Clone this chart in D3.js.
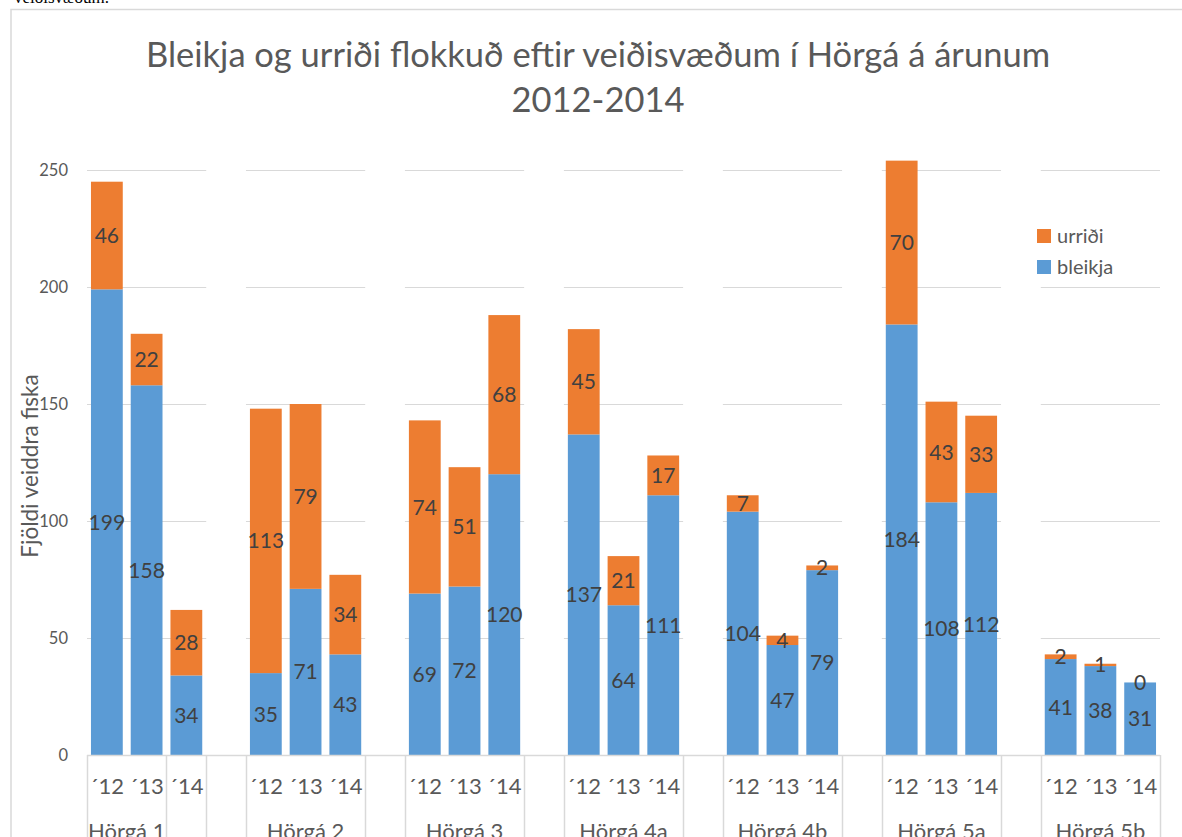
<!DOCTYPE html>
<html>
<head>
<meta charset="utf-8">
<script src="https://cdn.jsdelivr.net/npm/d3@7"></script>
<style>
  body { margin: 0; background: #fff; }
  svg { display: block; }
</style>
</head>
<body>
<div id="chart"></div>
<script>
// values
var groups = ['Hörgá 1', 'Hörgá 2', 'Hörgá 3', 'Hörgá 4a', 'Hörgá 4b', 'Hörgá 5a', 'Hörgá 5b']
var years = ['´12', '´13', '´14']
var labelSpan = [2, 3, 3, 3, 3, 3, 3]  // Hörgá 1 label only covers two year cells
var bleikja = [
  [199, 158, 34],
  [35, 71, 43],
  [69, 72, 120],
  [137, 64, 111],
  [104, 47, 79],
  [184, 108, 112],
  [41, 38, 31]
]
var urridi = [
  [46, 22, 28],
  [113, 79, 34],
  [74, 51, 68],
  [45, 21, 17],
  [7, 4, 2],
  [70, 43, 33],
  [2, 1, 0]
]
var yTicks = [0, 50, 100, 150, 200, 250]
var seriesNames = ['urriði', 'bleikja']
var colors = { bleikja: '#5B9BD5', urridi: '#ED7D31' }

var W = 1182, H = 837
var font = 'Lato, "Open Sans", sans-serif'
var svg = d3.select('#chart').append('svg').attr('width', W).attr('height', H)

// bit of the document text above the chart, cut off
svg.append('text').attr('x', 14).attr('y', 3)
  .attr('font-family', '"Liberation Serif", serif').attr('font-size', 17)
  .attr('fill', '#000').text('veiðisvæðum.')

// chart frame
svg.append('rect').attr('x', 11).attr('y', 9.5).attr('width', 1300).attr('height', 1000)
  .attr('fill', '#fff').attr('stroke', '#d9d9d9').attr('stroke-width', 1.5)

// slots: 3 years per group + an empty slot between groups
var slots = []
groups.forEach(function(g, i) {
  years.forEach(function(yr, j) { slots.push(i + '-' + j) })
  if (i < groups.length - 1) slots.push('gap' + i)
})
var x = d3.scaleBand().domain(slots).range([87, 1160]).paddingInner(0).paddingOuter(0)
var y = d3.scaleLinear().domain([0, 250]).range([755, 170])
var bw = x.bandwidth()

// gridlines, only across the groups
groups.forEach(function(g, i) {
  var x0 = x(i + '-0'), x1 = x(i + '-2') + bw
  svg.append('g').selectAll('line').data(yTicks.slice(1)).enter().append('line')
    .attr('x1', x0).attr('x2', x1)
    .attr('y1', function(d) { return Math.round(y(d)) + 0.5 })
    .attr('y2', function(d) { return Math.round(y(d)) + 0.5 })
    .attr('stroke', '#d9d9d9').attr('stroke-width', 1.2)
})

// y axis labels
var yAxis = svg.append('g').attr('transform', 'translate(87,0)')
  .call(d3.axisLeft(y).tickValues(yTicks).tickSize(0).tickPadding(19))
yAxis.select('.domain').remove()
yAxis.selectAll('text').attr('font-family', font).attr('font-size', 16.5).attr('fill', '#595959')

// stacked bars
var rows = []
groups.forEach(function(g, i) {
  years.forEach(function(yr, j) {
    var b = bleikja[i][j], u = urridi[i][j]
    rows.push({ slot: i + '-' + j, key: 'bleikja', y0: 0, y1: b, v: b })
    rows.push({ slot: i + '-' + j, key: 'urridi', y0: b, y1: b + u, v: u })
  })
})
var barW = bw * 0.8
svg.append('g').selectAll('rect').data(rows).enter().append('rect')
  .attr('x', function(d) { return x(d.slot) + (bw - barW) / 2 })
  .attr('width', barW)
  .attr('y', function(d) { return y(d.y1) })
  .attr('height', function(d) { return y(d.y0) - y(d.y1) })
  .attr('fill', function(d) { return colors[d.key] })

svg.append('g').selectAll('text').data(rows).enter().append('text')
  .attr('x', function(d) { return x(d.slot) + bw / 2 })
  .attr('y', function(d) { return y((d.y0 + d.y1) / 2) })
  .attr('dy', '0.36em')
  .attr('text-anchor', 'middle')
  .attr('font-family', font).attr('font-size', 21).attr('fill', '#404040')
  .text(function(d) { return d.v })

// category axis line
svg.append('line').attr('x1', 87).attr('x2', 1160).attr('y1', 755.5).attr('y2', 755.5)
  .attr('stroke', '#d9d9d9').attr('stroke-width', 1.5)

// cell separators of the two-level axis
var seps = []
groups.forEach(function(g, i) {
  seps.push(x(i + '-0'))
  seps.push(x(i + '-2') + bw)
  if (labelSpan[i] < 3) seps.push(x(i + '-' + (labelSpan[i] - 1)) + bw)
})
svg.append('g').selectAll('line').data(seps).enter().append('line')
  .attr('x1', function(d) { return Math.round(d) + 0.5 })
  .attr('x2', function(d) { return Math.round(d) + 0.5 })
  .attr('y1', 755).attr('y2', H)
  .attr('stroke', '#d9d9d9').attr('stroke-width', 1.5)

// year labels
var yearRows = []
groups.forEach(function(g, i) {
  years.forEach(function(yr, j) { yearRows.push({ slot: i + '-' + j, t: yr }) })
})
svg.append('g').selectAll('text').data(yearRows).enter().append('text')
  .attr('x', function(d) { return x(d.slot) + bw / 2 })
  .attr('y', 794)
  .attr('text-anchor', 'middle')
  .attr('font-family', font).attr('font-size', 22).attr('fill', '#595959')
  .text(function(d) { return d.t })

// group labels (cut at bottom, as in the screenshot)
svg.append('g').selectAll('text').data(groups).enter().append('text')
  .attr('x', function(d, i) { return x(i + '-0') + bw * labelSpan[i] / 2 })
  .attr('y', 839)
  .attr('text-anchor', 'middle')
  .attr('font-family', font).attr('font-size', 22).attr('fill', '#595959')
  .text(function(d) { return d })

// y axis title
svg.append('text')
  .attr('transform', 'translate(38,466) rotate(-90)')
  .attr('text-anchor', 'middle')
  .attr('font-family', font).attr('font-size', 22.5).attr('fill', '#595959')
  .text('Fjöldi veiddra fiska')

// title
var title = svg.append('text').attr('text-anchor', 'middle')
  .attr('font-family', font).attr('font-size', 34.5).attr('fill', '#595959')
title.append('tspan').attr('x', 598).attr('y', 67)
  .text('Bleikja og urriði flokkuð eftir veiðisvæðum í Hörgá á árunum')
title.append('tspan').attr('x', 598).attr('y', 112).text('2012-2014')

// legend
var legend = svg.append('g').attr('transform', 'translate(1037,229)')
var legKeys = ['urridi', 'bleikja']
legKeys.forEach(function(k, i) {
  var g = legend.append('g').attr('transform', 'translate(0,' + (i * 31) + ')')
  g.append('rect').attr('width', 14).attr('height', 14).attr('fill', colors[k])
  g.append('text').attr('x', 20).attr('y', 7).attr('dy', '0.36em')
    .attr('font-family', font).attr('font-size', 20).attr('fill', '#595959')
    .text(seriesNames[i])
})
</script>
</body>
</html>
